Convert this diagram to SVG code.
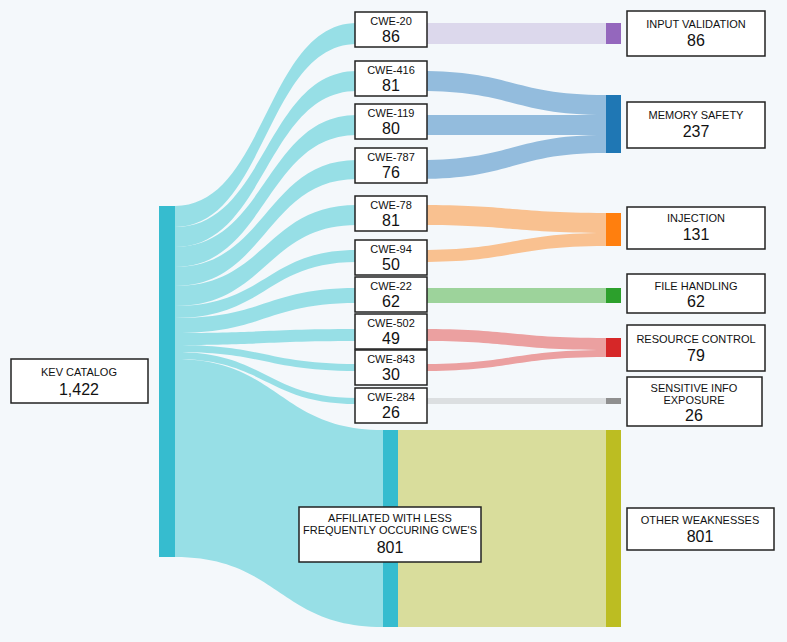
<svg xmlns="http://www.w3.org/2000/svg" width="787" height="642" viewBox="0 0 787 642">
<style>
.box{fill:#fff;stroke:#222;stroke-width:1.5}
.t{font-family:"Liberation Sans",Arial,sans-serif;font-size:11px;fill:#111;text-anchor:middle}
.n{font-family:"Liberation Sans",Arial,sans-serif;font-size:16px;fill:#111;text-anchor:middle}
.cy{fill:#97dfe6}
</style>
<rect width="787" height="642" fill="#f4f8fb"/>
<g id="connectors">
<path class="cy" d="M175 206C266 206 266 23 357 23L357 44C266 44 266 227 175 227Z"/>
<path class="cy" d="M175 227C266 227 266 71 357 71L357 91C266 91 266 247 175 247Z"/>
<path class="cy" d="M175 247C266 247 266 115 357 115L357 135C266 135 266 267 175 267Z"/>
<path class="cy" d="M175 267C266 267 266 160 357 160L357 179C266 179 266 286 175 286Z"/>
<path class="cy" d="M175 286C266 286 266 205 357 205L357 225C266 225 266 306 175 306Z"/>
<path class="cy" d="M175 306C266 306 266 250 357 250L357 262C266 262 266 318 175 318Z"/>
<path class="cy" d="M175 318C266 318 266 288 357 288L357 303C266 303 266 333 175 333Z"/>
<path class="cy" d="M175 333C266 333 266 329 357 329L357 341C266 341 266 345 175 345Z"/>
<path class="cy" d="M175 345C266 345 266 364 357 364L357 371C266 371 266 352 175 352Z"/>
<path class="cy" d="M175 352C266 352 266 398 357 398L357 404C266 404 266 359 175 359Z"/>
<path class="cy" d="M175 359C279 359 279 430 383 430L383 627C279 627 279 557 175 557Z"/>
<path fill="#dcd8ec" d="M420 23L606 23L606 44L420 44Z"/>
<path fill="#93bcdd" d="M420 71C513 71 513 95 606 95L606 115C513 115 513 91 420 91Z"/>
<path fill="#93bcdd" d="M420 115L606 115L606 135L420 135Z"/>
<path fill="#93bcdd" d="M420 160C513 160 513 135 606 135L606 153C513 153 513 179 420 179Z"/>
<path fill="#f9c190" d="M420 205C513 205 513 213 606 213L606 233C513 233 513 225 420 225Z"/>
<path fill="#f9c190" d="M420 250C513 250 513 233 606 233L606 246C513 246 513 262 420 262Z"/>
<path fill="#9dd39b" d="M420 288L606 288L606 303L420 303Z"/>
<path fill="#eba0a0" d="M420 329C513 329 513 338 606 338L606 350C513 350 513 341 420 341Z"/>
<path fill="#eba0a0" d="M420 364C513 364 513 350 606 350L606 357C513 357 513 371 420 371Z"/>
<path fill="#dcdfe1" d="M420 398L606 398L606 404L420 404Z"/>
<rect x="398" y="430" width="208" height="197" fill="#d9dd9c"/>
</g>
<g id="kev"><rect x="159" y="206" width="16" height="351" fill="#36bccf"/><rect class="box" x="11" y="359" width="137" height="44"/><text class="t" x="79" y="376">KEV CATALOG</text><text class="n" x="79" y="395">1,422</text></g>
<g id="cwe20"><rect class="box" x="355" y="12" width="72" height="35"/><text class="t" x="391" y="25">CWE-20</text><text class="n" x="391" y="42">86</text></g>
<g id="cwe416"><rect class="box" x="355" y="61" width="72" height="35"/><text class="t" x="391" y="74">CWE-416</text><text class="n" x="391" y="91">81</text></g>
<g id="cwe119"><rect class="box" x="355" y="104" width="72" height="35"/><text class="t" x="391" y="117">CWE-119</text><text class="n" x="391" y="134">80</text></g>
<g id="cwe787"><rect class="box" x="355" y="148" width="72" height="35"/><text class="t" x="391" y="161">CWE-787</text><text class="n" x="391" y="178">76</text></g>
<g id="cwe78"><rect class="box" x="355" y="196" width="72" height="35"/><text class="t" x="391" y="209">CWE-78</text><text class="n" x="391" y="226">81</text></g>
<g id="cwe94"><rect class="box" x="355" y="240" width="72" height="35"/><text class="t" x="391" y="253">CWE-94</text><text class="n" x="391" y="270">50</text></g>
<g id="cwe22"><rect class="box" x="355" y="277" width="72" height="35"/><text class="t" x="391" y="290">CWE-22</text><text class="n" x="391" y="307">62</text></g>
<g id="cwe502"><rect class="box" x="355" y="314" width="72" height="35"/><text class="t" x="391" y="327">CWE-502</text><text class="n" x="391" y="344">49</text></g>
<g id="cwe843"><rect class="box" x="355" y="350" width="72" height="35"/><text class="t" x="391" y="363">CWE-843</text><text class="n" x="391" y="380">30</text></g>
<g id="cwe284"><rect class="box" x="355" y="388" width="72" height="35"/><text class="t" x="391" y="401">CWE-284</text><text class="n" x="391" y="418">26</text></g>
<g id="affiliated"><rect x="383" y="430" width="15" height="197" fill="#36bccf"/><rect class="box" x="299" y="507" width="182" height="55"/><text class="t" x="390" y="522">AFFILIATED WITH LESS</text><text class="t" x="390" y="534">FREQUENTLY OCCURING CWE'S</text><text class="n" x="390" y="553">801</text></g>
<g id="input"><rect x="606" y="23" width="15" height="21" fill="#9467bd"/><rect class="box" x="627" y="11" width="138" height="45"/><text class="t" x="696" y="28">INPUT VALIDATION</text><text class="n" x="696" y="46">86</text></g>
<g id="memory"><rect x="606" y="95" width="15" height="58" fill="#1f77b4"/><rect class="box" x="627" y="102" width="138" height="46"/><text class="t" x="696" y="119">MEMORY SAFETY</text><text class="n" x="696" y="137">237</text></g>
<g id="injection"><rect x="606" y="213" width="15" height="33" fill="#ff7f0e"/><rect class="box" x="627" y="207" width="138" height="42"/><text class="t" x="696" y="222">INJECTION</text><text class="n" x="696" y="240">131</text></g>
<g id="file"><rect x="606" y="288" width="15" height="15" fill="#2ca02c"/><rect class="box" x="627" y="274" width="138" height="39"/><text class="t" x="696" y="290">FILE HANDLING</text><text class="n" x="696" y="307">62</text></g>
<g id="resource"><rect x="606" y="338" width="15" height="19" fill="#d62728"/><rect class="box" x="627" y="325" width="138" height="46"/><text class="t" x="696" y="343">RESOURCE CONTROL</text><text class="n" x="696" y="361">79</text></g>
<g id="sensitive"><rect x="606" y="398" width="15" height="6" fill="#8f8f8f"/><rect class="box" x="627" y="377" width="135" height="49"/><text class="t" x="694" y="392">SENSITIVE INFO</text><text class="t" x="694" y="404">EXPOSURE</text><text class="n" x="694" y="421">26</text></g>
<g id="other"><rect x="606" y="430" width="15" height="197" fill="#bcbd22"/><rect class="box" x="627" y="508" width="147" height="42"/><text class="t" x="700" y="524">OTHER WEAKNESSES</text><text class="n" x="700" y="542">801</text></g>
</svg>
